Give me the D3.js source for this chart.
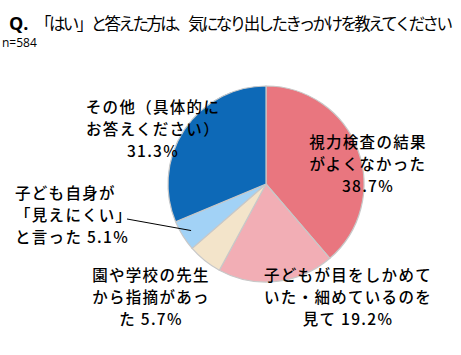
<!DOCTYPE html>
<html><head><meta charset="utf-8">
<script src="https://cdn.jsdelivr.net/npm/d3@7"></script>
<style>body{margin:0;background:#fff}svg{display:block}</style>
</head><body>
<svg id="c" width="461" height="355"></svg>
<script>
const categories = ["視力検査の結果がよくなかった","子どもが目をしかめていた・細めているのを見て","園や学校の先生から指摘があった","子ども自身が「見えにくい」と言った","その他（具体的にお答えください）"];
const values = [38.7, 19.2, 5.7, 5.1, 31.3];
const colors = ["#E9767F","#F2AEB5","#F3E4CA","#A2D2F6","#0D69B7"];
const labelLines = [
  ["視力検査の結果","がよくなかった","38.7%"],
  ["子どもが目をしかめて","いた・細めているのを","見て 19.2%"],
  ["園や学校の先生","から指摘があっ","た 5.7%"],
  ["子ども自身が","「見えにくい」","と言った 5.1%"],
  ["その他（具体的に","お答えください）","31.3%"]
];
const title = "「はい」と答えた方は、気になり出したきっかけを教えてください";
const subtitle = "n=584";

const svg = d3.select("#c");
const font = "'Noto Sans CJK JP', sans-serif";

svg.append("text").attr("x",9).attr("y",30).attr("font-family","'Open Sans', sans-serif")
  .attr("font-weight","bold").attr("font-size",18).attr("fill","#000").text("Q.");
svg.append("text").attr("x",35).attr("y",30).attr("font-family",font)
  .attr("font-size",16.5).attr("fill","#000").attr("textLength",418).attr("lengthAdjust","spacing").text(title);
svg.append("text").attr("x",2).attr("y",47).attr("font-family","'Open Sans', sans-serif")
  .attr("font-size",12).attr("fill","#000").text(subtitle);

const cx = 266, cy = 184, r = 98;
const pie = d3.pie().sort(null).value(d=>d)(values);
const arc = d3.arc().innerRadius(0).outerRadius(r);
const g = svg.append("g").attr("transform",`translate(${cx},${cy})`);
g.selectAll("path").data(pie).join("path")
  .attr("d",arc).attr("fill",(d,i)=>colors[i])
  .attr("stroke","#c8c8c8").attr("stroke-width",1.2);

// label placements: [anchor x, first baseline y, text-anchor]
const pos = [
  [368,148,"middle"],
  [348,281,"middle"],
  [151,281,"middle"],
  [15,199,"start"],
  [153,113,"middle"]
];
labelLines.forEach((lines,i)=>{
  const t = svg.append("text").attr("font-family",font).attr("font-size",15.5)
    .attr("font-weight",500).attr("letter-spacing",1.3).attr("fill","#000").attr("text-anchor",pos[i][2]);
  lines.forEach((l,j)=>{
    t.append("tspan").attr("x",pos[i][0]).attr("y",pos[i][1]+j*22).text(l);
  });
});

// leader line for 5.1%
const s4 = pie[3];
const mid = (s4.startAngle+s4.endAngle)/2;
const ex = cx + Math.sin(mid)*(r*0.9), ey = cy - Math.cos(mid)*(r*0.9);
svg.append("path").attr("d",`M127,219 L${ex},${ey}`).attr("stroke","#000").attr("stroke-width",1).attr("fill","none");
</script>
</body></html>
